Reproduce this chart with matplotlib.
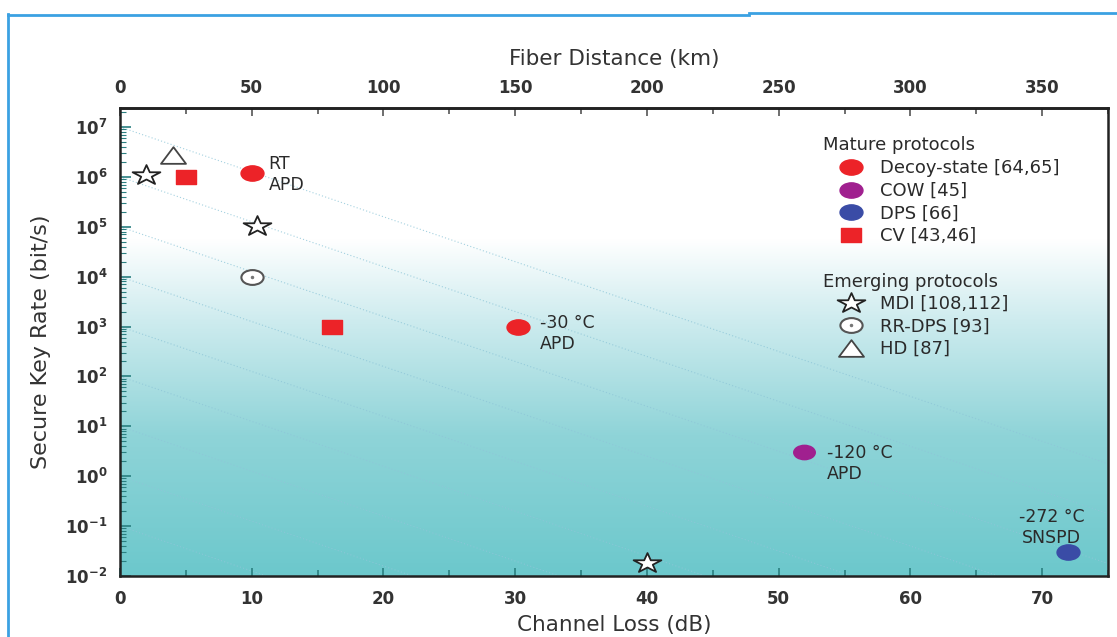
import numpy as np
import matplotlib
matplotlib.use('Agg')
import matplotlib.pyplot as plt
from matplotlib.path import Path
from matplotlib.markers import MarkerStyle
from matplotlib.lines import Line2D
from matplotlib.colors import LinearSegmentedColormap
from matplotlib.ticker import FixedLocator, MultipleLocator, LogLocator, NullFormatter
from matplotlib.legend_handler import HandlerTuple

plt.rcParams['font.family'] = ['DejaVu Sans']
plt.rcParams['mathtext.fontset'] = 'dejavusans'

# data: channel loss (dB) and secure key rate (bit/s)
decoy_loss = [10.0, 30.2]
decoy_rate = [1.2e6, 1.0e3]
cow_loss = [51.9]
cow_rate = [3.0]
dps_loss = [72.0]
dps_rate = [0.03]
cv_loss = [5.0, 16.1]
cv_rate = [1.0e6, 1.0e3]
mdi_loss = [2.0, 10.4, 40.0]
mdi_rate = [1.1e6, 1.05e5, 0.018]
rrdps_loss = [10.0]
rrdps_rate = [1.0e4]
hd_loss = [4.0]
hd_rate = [2.7e6]

# text next to some points
note_labels = ['RT\nAPD', '-30 °C\nAPD', '-120 °C\nAPD', '-272 °C\nSNSPD']
note_loss = [10.0, 30.2, 51.9, 72.0]
note_rate = [1.2e6, 1.0e3, 3.0, 0.03]

# faint loss guide lines (start decade at 0 dB)
guide_start = [7, 6, 5, 4, 3, 2, 1, 0, -1]
guide_slope = 0.09

x_ticks = [0, 10, 20, 30, 40, 50, 60, 70]
km_ticks = [0, 50, 100, 150, 200, 250, 300, 350]
y_decades = list(range(-2, 8))

RED = '#ec2328'
PURPLE = '#a0208f'
BLUE = '#3a4ca6'
TXT = '#2a2a2a'


def wide(marker, sx=1.5):
    """Marker shape stretched sideways like the original picture."""
    ms = MarkerStyle(marker)
    p = ms.get_path().transformed(ms.get_transform())
    return Path(p.vertices * [sx, 1.0], p.codes)


CIRCLE = wide('o')
SQUARE = wide('s')
STAR = wide('*', 1.4)
TRI = wide('^')

fig = plt.figure(figsize=(11.17, 6.37), dpi=100)
W, H = 1117, 637
left, right, top, bottom = 120, 1108, 108, 576
rect = [left / W, 1 - bottom / H, (right - left) / W, (bottom - top) / H]

# gradient background
bg = fig.add_axes(rect, zorder=0)
cmap = LinearSegmentedColormap.from_list(
    'bg', [(0.0, '#6cc8cc'), (0.3, '#8fd4d8'), (0.55, '#cfecef'),
           (0.72, '#ffffff'), (1.0, '#ffffff')])
bg.imshow(np.linspace(1, 0, 256).reshape(-1, 1), aspect='auto', cmap=cmap,
          extent=[0, 1, 0, 1])
bg.axis('off')

ax = fig.add_axes(rect, zorder=1)
ax.patch.set_alpha(0)
ax.set_yscale('log')
ax.set_xlim(0, 75)
ax.set_ylim(1e-2, 2.4e7)

xs = np.array([0, 75])
for k in guide_start:
    ax.plot(xs, 10.0 ** (k - guide_slope * xs), ls=(0, (1, 2)), lw=0.8,
            color='#8ec6d8', alpha=0.8, zorder=1)

ax.plot(decoy_loss, decoy_rate, ls='none', marker=CIRCLE, ms=16.5,
        color=RED, zorder=3)
ax.plot(cow_loss, cow_rate, ls='none', marker=CIRCLE, ms=15.5,
        color=PURPLE, zorder=3)
ax.plot(dps_loss, dps_rate, ls='none', marker=CIRCLE, ms=16.5,
        color=BLUE, zorder=3)
ax.plot(cv_loss, cv_rate, ls='none', marker=SQUARE, ms=14.5,
        color=RED, zorder=3)
ax.plot(mdi_loss, mdi_rate, ls='none', marker=STAR, ms=20, mfc='white',
        mec='#222222', mew=1.3, zorder=3)
ax.plot(rrdps_loss, rrdps_rate, ls='none', marker=CIRCLE, ms=16,
        mfc='white', mec='#555555', mew=1.5, zorder=3)
ax.plot(rrdps_loss, rrdps_rate, ls='none', marker='o', ms=1.5,
        color='#777777', zorder=4)
ax.plot(hd_loss, hd_rate, ls='none', marker=TRI, ms=18, mfc='white',
        mec='#444444', mew=1.3, zorder=3)

offsets = [(12, -1), (16, -5), (17, -8), (-12, 18)]
aligns = ['left', 'left', 'left', 'center']
for lab, x, y, off, ha in zip(note_labels, note_loss, note_rate, offsets, aligns):
    ax.annotate(lab, xy=(x, y), xytext=off, textcoords='offset points',
                ha=ha, va='center', fontsize=12.5, color=TXT,
                linespacing=1.2)

# axes styling
for s in ax.spines.values():
    s.set_linewidth(1.8)
    s.set_color('#222222')
ax.xaxis.set_major_locator(FixedLocator(x_ticks))
ax.xaxis.set_minor_locator(MultipleLocator(5))
ax.set_xticklabels([str(t) for t in x_ticks], fontsize=12, fontweight='bold',
                   color='#333333')
ax.tick_params(axis='x', which='both', direction='in', top=False,
               color='#2a7f80', pad=10)
ax.tick_params(axis='x', which='major', length=6, width=1.2)
ax.tick_params(axis='x', which='minor', length=4, width=1.2)

ax.yaxis.set_major_locator(FixedLocator([10.0 ** d for d in y_decades]))
ax.set_yticklabels([r'$\mathbf{10^{%d}}$' % d for d in y_decades],
                   fontsize=12, color='#333333')
ax.yaxis.set_minor_locator(LogLocator(base=10, subs=np.arange(2, 10), numticks=20))
ax.yaxis.set_minor_formatter(NullFormatter())
ax.tick_params(axis='y', which='both', direction='in', right=False,
               color='#2a7f80', pad=9)
ax.tick_params(axis='y', which='major', length=8, width=1.2)
ax.tick_params(axis='y', which='minor', length=4, width=0.8)

ax.set_xlabel('Channel Loss (dB)', fontsize=15.5, color='#333333', labelpad=5)
ax.set_ylabel('Secure Key Rate (bit/s)', fontsize=16, color='#333333',
              labelpad=10)

top_ax = ax.secondary_xaxis('top', functions=(lambda d: d * 5, lambda k: k / 5))
top_ax.xaxis.set_major_locator(FixedLocator(km_ticks))
top_ax.xaxis.set_minor_locator(MultipleLocator(25))
top_ax.set_xticklabels([str(t) for t in km_ticks], fontsize=12,
                       fontweight='bold', color='#333333')
top_ax.tick_params(which='both', direction='in', color='#555555', pad=8)
top_ax.tick_params(which='major', length=6, width=1.2)
top_ax.tick_params(which='minor', length=4, width=1.2)
top_ax.spines['top'].set_linewidth(1.8)
top_ax.set_xlabel('Fiber Distance (km)', fontsize=15.5, color='#333333',
                  labelpad=10)

# legends
def h(marker, ms, **kw):
    return Line2D([], [], ls='none', marker=marker, ms=ms, **kw)


mature = [h(CIRCLE, 16.5, color=RED), h(CIRCLE, 16.5, color=PURPLE),
          h(CIRCLE, 16.5, color=BLUE), h(SQUARE, 14.5, color=RED)]
mature_labels = ['Decoy-state [64,65]', 'COW [45]', 'DPS [66]', 'CV [43,46]']
emerging = [h(STAR, 20, mfc='white', mec='#222222', mew=1.3),
            (h(CIRCLE, 16, mfc='white', mec='#555555', mew=1.5),
             h('o', 1.5, color='#777777')),
            h(TRI, 18, mfc='white', mec='#444444', mew=1.3)]
emerging_labels = ['MDI [108,112]', 'RR-DPS [93]', 'HD [87]']

leg_kw = dict(frameon=False, fontsize=13, handlelength=1.2, handletextpad=1.0,
              labelspacing=0.25, borderpad=0, borderaxespad=0, loc='upper left',
              labelcolor=TXT, handler_map={tuple: HandlerTuple(ndivide=1, pad=0)})
leg1 = ax.legend(mature, mature_labels, bbox_to_anchor=(0.729, 0.89), **leg_kw)
ax.add_artist(leg1)
ax.legend(emerging, emerging_labels, bbox_to_anchor=(0.729, 0.60), **leg_kw)
ax.text(0.7115, 0.921, 'Mature protocols', transform=ax.transAxes,
        fontsize=13, va='center', ha='left', color=TXT)
ax.text(0.7115, 0.628, 'Emerging protocols', transform=ax.transAxes,
        fontsize=13, va='center', ha='left', color=TXT)

# blue frame of the screenshot
frame = '#3ba1e2'
fig.add_artist(Line2D([8 / W, 8 / W], [0, 1 - 14 / H], color=frame, lw=2,
                      transform=fig.transFigure))
fig.add_artist(Line2D([8 / W, 749 / W], [1 - 14.5 / H, 1 - 14.5 / H],
                      color=frame, lw=2, transform=fig.transFigure))
fig.add_artist(Line2D([749 / W, 1], [1 - 12.5 / H, 1 - 12.5 / H],
                      color=frame, lw=2, transform=fig.transFigure))

fig.savefig('out.png', dpi=100)
